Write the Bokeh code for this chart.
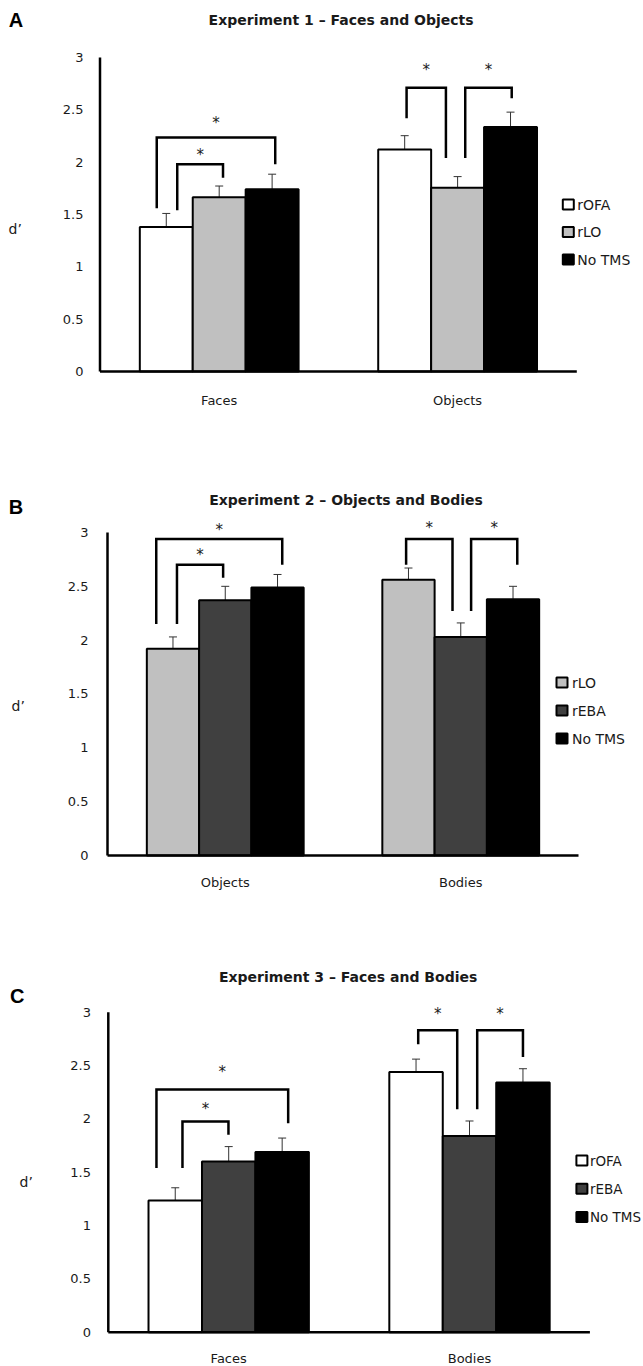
from bokeh.plotting import figure
from bokeh.models import (ColumnDataSource, Range1d, FixedTicker, Whisker, TeeHead,
                          Label, CustomJSTickFormatter)
from bokeh.layouts import column
from bokeh.core.properties import value
from bokeh.embed import file_html
from bokeh.resources import INLINE

# ---------------- data ----------------
y_ticks = [0, 0.5, 1, 1.5, 2, 2.5, 3]
y_tick_labels = ["0", "0.5", "1", "1.5", "2", "2.5", "3"]

A_title = "Experiment 1 \u2013 Faces and Objects"
A_categories = ["Faces", "Objects"]
A_conditions = ["rOFA", "rLO", "No TMS"]
A_colors = ["#ffffff", "#c0c0c0", "#000000"]
A_rOFA = [1.38, 2.12]
A_rLO = [1.665, 1.755]
A_NoTMS = [1.74, 2.335]
A_rOFA_err = [0.13, 0.133]
A_rLO_err = [0.107, 0.107]
A_NoTMS_err = [0.145, 0.143]
# significance brackets: group, left x offset, right x offset, top, left foot, right foot, star
A_sig_group = [0, 0, 1, 1]
A_sig_left = [-0.262, -0.176, -0.214, 0.032]
A_sig_right = [0.235, 0.016, -0.049, 0.227]
A_sig_top = [2.235, 1.98, 2.71, 2.71]
A_sig_lfoot = [1.56, 1.54, 2.42, 2.04]
A_sig_rfoot = [1.98, 1.85, 2.04, 2.61]
A_sig_star = [2.38, 2.08, 2.89, 2.89]

B_title = "Experiment 2 \u2013 Objects and Bodies"
B_categories = ["Objects", "Bodies"]
B_conditions = ["rLO", "rEBA", "No TMS"]
B_colors = ["#c0c0c0", "#404040", "#000000"]
B_rLO = [1.92, 2.56]
B_rEBA = [2.37, 2.03]
B_NoTMS = [2.49, 2.38]
B_rLO_err = [0.11, 0.11]
B_rEBA_err = [0.13, 0.13]
B_NoTMS_err = [0.12, 0.12]
B_sig_group = [0, 0, 1, 1]
B_sig_left = [-0.293, -0.205, -0.232, 0.044]
B_sig_right = [0.242, -0.009, -0.035, 0.240]
B_sig_top = [2.94, 2.70, 2.94, 2.94]
B_sig_lfoot = [2.15, 2.15, 2.70, 2.27]
B_sig_rfoot = [2.70, 2.58, 2.27, 2.70]
B_sig_star = [3.03, 2.80, 3.05, 3.05]

C_title = "Experiment 3 \u2013 Faces and Bodies"
C_categories = ["Faces", "Bodies"]
C_conditions = ["rOFA", "rEBA", "No TMS"]
C_colors = ["#ffffff", "#404040", "#000000"]
C_rOFA = [1.234, 2.44]
C_rEBA = [1.60, 1.84]
C_NoTMS = [1.69, 2.34]
C_rOFA_err = [0.12, 0.12]
C_rEBA_err = [0.14, 0.14]
C_NoTMS_err = [0.13, 0.13]
C_sig_group = [0, 0, 1, 1]
C_sig_left = [-0.300, -0.192, -0.213, 0.032]
C_sig_right = [0.247, -0.001, -0.051, 0.222]
C_sig_top = [2.275, 1.975, 2.83, 2.83]
C_sig_lfoot = [1.54, 1.54, 2.70, 2.09]
C_sig_rfoot = [1.96, 1.85, 2.09, 2.58]
C_sig_star = [2.45, 2.10, 2.99, 2.99]

BAR_W = 0.222
FONT = "DejaVu Sans"
TXT = "#1a1a1a"
FIG_W = 643
XOFF = 0  # horizontal page offset of the figures


def panel(letter, title, cats, conds, colors, means, errs, sig, lay):
    ptop, H, ax, ppx = lay["ptop"], lay["H"], lay["ax"], lay["ppx"]
    y0, ppy = lay["y0"], lay["ppy"]
    fh = int(round(y0 + 5 - ptop))
    x_start = -0.5 - (ax - XOFF) / ppx
    x_end = x_start + FIG_W / ppx
    y_end = (y0 - ptop) / ppy
    y_start = y_end - fh / ppy

    def dx(px):
        return -0.5 + (px - ax) / ppx

    def dy(py):
        return (y0 - py) / ppy

    p = figure(frame_width=FIG_W, frame_height=fh, output_backend="svg", toolbar_location=None,
               x_range=Range1d(x_start, x_end), y_range=Range1d(y_start, y_end),
               y_axis_location=None,
               min_border_left=0, min_border_right=0, min_border_top=0,
               min_border_bottom=H - fh, title=None)
    p.outline_line_color = None
    p.xgrid.visible = False
    p.ygrid.visible = False
    p.background_fill_color = "white"

    wx, wup, wlo = [], [], []
    for k, (cond, col) in enumerate(zip(conds, colors)):
        xs = [g + (k - 1) * BAR_W for g in range(len(cats))]
        src = ColumnDataSource(dict(x=xs, top=means[k]))
        p.vbar(x="x", top="top", bottom=0, width=BAR_W, source=src,
               fill_color=col, line_color="black", line_width=2)
        for i in range(len(cats)):
            wx.append(xs[i])
            wup.append(means[k][i] + errs[k][i])
            wlo.append(means[k][i] - errs[k][i])

    wsrc = ColumnDataSource(dict(x=wx, upper=wup, lower=wlo))
    p.add_layout(Whisker(source=wsrc, base="x", upper="upper", lower="lower",
                         line_color="#333333", line_width=1,
                         upper_head=TeeHead(size=8, line_color="#333333", line_width=1),
                         lower_head=TeeHead(size=8, line_color="#333333", line_width=1)))

    # axis lines (value axis 0..3, category axis -0.5..1.5)
    p.segment(x0=[-0.5, -0.5], y0=[0, 0], x1=[len(cats) - 0.5, -0.5], y1=[0, y_ticks[-1]],
              line_color="black", line_width=2.5)

    # y tick labels
    p.text(x=[dx(lay["ylab_right"])] * len(y_ticks), y=y_ticks, text=y_tick_labels,
           text_align="right", text_baseline="middle", text_font=value(FONT),
           text_font_size="13px", text_color=TXT)

    # significance brackets
    g, lo, ro, top, lf, rf, st = sig
    bx, by, sx, sy = [], [], [], []
    for i in range(len(g)):
        xl = g[i] + lo[i]
        xr = g[i] + ro[i]
        bx.append([xl, xl, xr, xr])
        by.append([lf[i], top[i], top[i], rf[i]])
        sx.append((xl + xr) / 2)
        sy.append(st[i] - 1 / ppy)
    p.multi_line(xs=bx, ys=by, line_color="black", line_width=2.5, line_join="miter")
    p.text(x=sx, y=sy, text=["*"] * len(sx), text_align="center", text_baseline="alphabetic",
           text_font=value(FONT), text_font_size="15px", text_color=TXT)

    # category axis
    p.xaxis.ticker = FixedTicker(ticks=list(range(len(cats))))
    p.xaxis.formatter = CustomJSTickFormatter(args=dict(names=cats),
                                              code="return names[Math.round(tick)] || ''")
    p.xaxis.axis_line_color = None
    p.xaxis.major_tick_line_color = None
    p.xaxis.minor_tick_line_color = None
    p.xaxis.major_tick_out = 0
    p.xaxis.major_label_standoff = lay["xstand"]
    p.xaxis.major_label_text_font = FONT
    p.xaxis.major_label_text_font_size = "13px"
    p.xaxis.major_label_text_color = TXT

    # texts
    p.add_layout(Label(x=dx(lay["title"][0]), y=dy(lay["title"][1]), text=title,
                       text_align="center", text_baseline="middle", text_font=FONT,
                       text_font_style="bold", text_font_size="14px", text_color=TXT))
    p.add_layout(Label(x=dx(lay["letter"][0]), y=dy(lay["letter"][1]), text=letter,
                       text_align="left", text_baseline="middle", text_font="Liberation Sans",
                       text_font_style="bold", text_font_size="20px", text_color="black"))
    p.add_layout(Label(x=dx(lay["dp"][0]), y=dy(lay["dp"][1]), text="d\u2019",
                       text_align="left", text_baseline="middle", text_font=FONT,
                       text_font_size="14px", text_color=TXT))

    # legend (drawn from the condition lists)
    lx, ly, pitch, lfs, lgap = lay["legend"]
    gx = [dx(lx)] * len(conds)
    gy = [dy(ly + k * pitch) for k in range(len(conds))]
    p.rect(x=gx, y=gy, width=11, height=10, width_units="screen", height_units="screen",
           fill_color=colors, line_color="black", line_width=2)
    p.text(x=[dx(lx + lgap)] * len(conds), y=gy, text=conds, text_align="left",
           text_baseline="middle", text_font=value(FONT), text_font_size=lfs,
           text_color=TXT)
    return p


layA = dict(ptop=0, H=440, ax=99.5, ppx=238.4, y0=371, ppy=104.67, ylab_right=83,
            title=(340.6, 19), letter=(8.3, 19.5), dp=(8, 228),
            legend=(567.8, 204, 27.5, "14px", 9), xstand=16)
layB = dict(ptop=440, H=460, ax=107, ppx=235.5, y0=855, ppy=107.67, ylab_right=88,
            title=(345.5, 499.5), letter=(8.3, 506.5), dp=(11, 705),
            legend=(561.5, 682, 28, "14px", 10), xstand=14)
layC = dict(ptop=900, H=465, ax=107.8, ppx=240.8, y0=1331.7, ppy=106.67, ylab_right=90.5,
            title=(347.6, 976.7), letter=(9.5, 995), dp=(19, 1181.7),
            legend=(581.4, 1160, 28.3, "13.5px", 8), xstand=13)

pA = panel("A", A_title, A_categories, A_conditions, A_colors,
           [A_rOFA, A_rLO, A_NoTMS], [A_rOFA_err, A_rLO_err, A_NoTMS_err],
           (A_sig_group, A_sig_left, A_sig_right, A_sig_top, A_sig_lfoot, A_sig_rfoot, A_sig_star),
           layA)
pB = panel("B", B_title, B_categories, B_conditions, B_colors,
           [B_rLO, B_rEBA, B_NoTMS], [B_rLO_err, B_rEBA_err, B_NoTMS_err],
           (B_sig_group, B_sig_left, B_sig_right, B_sig_top, B_sig_lfoot, B_sig_rfoot, B_sig_star),
           layB)
pC = panel("C", C_title, C_categories, C_conditions, C_colors,
           [C_rOFA, C_rEBA, C_NoTMS], [C_rOFA_err, C_rEBA_err, C_NoTMS_err],
           (C_sig_group, C_sig_left, C_sig_right, C_sig_top, C_sig_lfoot, C_sig_rfoot, C_sig_star),
           layC)

p = column(pA, pB, pC, spacing=0)
open("out.html", "w").write(file_html(p, INLINE))
